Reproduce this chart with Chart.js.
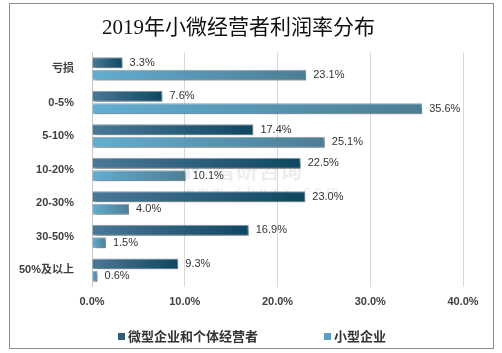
<!DOCTYPE html>
<html>
<head>
<meta charset="utf-8">
<script src="https://cdn.jsdelivr.net/npm/chart.js@4.4.0/dist/chart.umd.min.js"></script>
<style>
  body { margin: 0; background: #fff; }
  canvas { display: block; }
</style>
</head>
<body>
<canvas id="chart" width="502" height="353"></canvas>
<script>
// chart values
const categories = ['亏损', '0-5%', '5-10%', '10-20%', '20-30%', '30-50%', '50%及以上'];
const microValues = [3.3, 7.6, 17.4, 22.5, 23.0, 16.9, 9.3];
const smallValues = [23.1, 35.6, 25.1, 10.1, 4.0, 1.5, 0.6];
const seriesNames = ['微型企业和个体经营者', '小型企业'];
const xTicks = [0, 10, 20, 30, 40];

// horizontal gradient that runs along each bar's own length
function barGradient(c, from, to) {
  const chart = c.chart;
  if (c.type !== 'data' || !chart.chartArea) return to;
  const xs = chart.scales.x;
  const x0 = xs.getPixelForValue(0);
  const x1 = xs.getPixelForValue(c.raw);
  const g = chart.ctx.createLinearGradient(x0, 0, Math.max(x1, x0 + 1), 0);
  g.addColorStop(0, from);
  g.addColorStop(1, to);
  return g;
}

const frame = {
  id: 'frame',
  beforeDraw(chart) {
    const ctx = chart.ctx;
    ctx.save();
    ctx.fillStyle = '#fff';
    ctx.fillRect(0, 0, chart.width, chart.height);
    ctx.strokeStyle = '#8c8c8c';
    ctx.lineWidth = 1;
    ctx.strokeRect(9.5, 3.5, 484, 345);
    // faint watermark
    ctx.globalAlpha = 0.13;
    ctx.fillStyle = '#6a8fb0';
    ctx.fillRect(183, 165, 7, 14);
    ctx.fillRect(192, 165, 7, 7);
    ctx.fillStyle = '#777';
    ctx.font = 'bold 22px "Noto Sans CJK SC"';
    ctx.textBaseline = 'middle';
    ctx.fillText('智研咨询', 214, 170);
    ctx.font = '13px "DejaVu Sans"';
    ctx.fillText('w w w . c h y x x . c o m', 183, 192);
    ctx.restore();
  }
};

const shadow = {
  id: 'shadow',
  beforeDatasetsDraw(chart) {
    const ctx = chart.ctx;
    ctx.save();
    ctx.shadowColor = 'rgba(0,0,0,0.35)';
    ctx.shadowOffsetX = 2;
    ctx.shadowOffsetY = 2;
    ctx.shadowBlur = 3;
  },
  afterDatasetsDraw(chart) {
    chart.ctx.restore();
    // value labels at the end of each bar
    const ctx = chart.ctx;
    ctx.save();
    ctx.font = '11px "Liberation Sans", "DejaVu Sans"';
    ctx.fillStyle = '#333';
    ctx.textBaseline = 'middle';
    chart.data.datasets.forEach((ds, i) => {
      chart.getDatasetMeta(i).data.forEach((bar, j) => {
        ctx.fillText(ds.data[j].toFixed(1) + '%', bar.x + 7, bar.y);
      });
    });
    ctx.restore();
  }
};

const legendBox = {
  id: 'legendBox',
  afterDraw(chart) {
    const ctx = chart.ctx;
    ctx.save();
    ctx.font = 'bold 13px "Noto Sans CJK SC"';
    ctx.textBaseline = 'middle';
    const colors = ['#2f5f7c', '#5a9fc0'];
    const gap = 66, box = 7;
    const widths = chart.data.datasets.map(ds => box + 3 + ctx.measureText(ds.label).width);
    let x = 252 - (widths[0] + widths[1] + gap) / 2;
    const y = 336;
    chart.data.datasets.forEach((ds, i) => {
      ctx.fillStyle = colors[i];
      ctx.fillRect(x, y - 3, box, box);
      ctx.fillStyle = '#333';
      ctx.fillText(ds.label, x + box + 3, y);
      x += widths[i] + gap;
    });
    ctx.restore();
  }
};

new Chart(document.getElementById('chart'), {
  type: 'bar',
  data: {
    labels: categories,
    datasets: [
      {
        label: seriesNames[0],
        data: microValues,
        backgroundColor: c => barGradient(c, '#4a7898', '#0e4761'),
        borderColor: 'rgba(20,60,80,0.5)',
        borderWidth: 1,
        categoryPercentage: 0.74,
        barPercentage: 0.88
      },
      {
        label: seriesNames[1],
        data: smallValues,
        backgroundColor: c => barGradient(c, '#62aed2', '#4c7d94'),
        borderColor: 'rgba(40,80,100,0.5)',
        borderWidth: 1,
        categoryPercentage: 0.74,
        barPercentage: 0.88
      }
    ]
  },
  options: {
    indexAxis: 'y',
    responsive: false,
    animation: false,
    layout: { padding: { top: 3, left: 14, right: 39, bottom: 35 } },
    plugins: {
      legend: { display: false },
      tooltip: { enabled: false },
      title: {
        display: true,
        text: '2019年小微经营者利润率分布',
        color: '#111',
        font: { family: '"Liberation Serif", "Noto Sans CJK SC"', size: 21, weight: 'normal' },
        padding: { top: 13, bottom: 11 }
      }
    },
    scales: {
      x: {
        min: 0,
        max: 40,
        afterBuildTicks: axis => { axis.ticks = xTicks.map(v => ({ value: v })); },
        grid: { color: '#d9d9d9', drawTicks: false },
        border: { display: false },
        ticks: {
          padding: 9,
          color: '#404040',
          font: { family: '"Liberation Sans"', size: 11, weight: 'bold' },
          callback: v => v.toFixed(1) + '%'
        }
      },
      y: {
        afterFit: axis => { axis.width = 78; },
        grid: { display: false },
        border: { color: '#c8c8c8' },
        ticks: {
          padding: 10,
          color: '#404040',
          font: { family: '"Liberation Sans", "Noto Sans CJK SC"', size: 11, weight: 'bold' }
        }
      }
    }
  },
  plugins: [frame, shadow, legendBox]
});
</script>
</body>
</html>
